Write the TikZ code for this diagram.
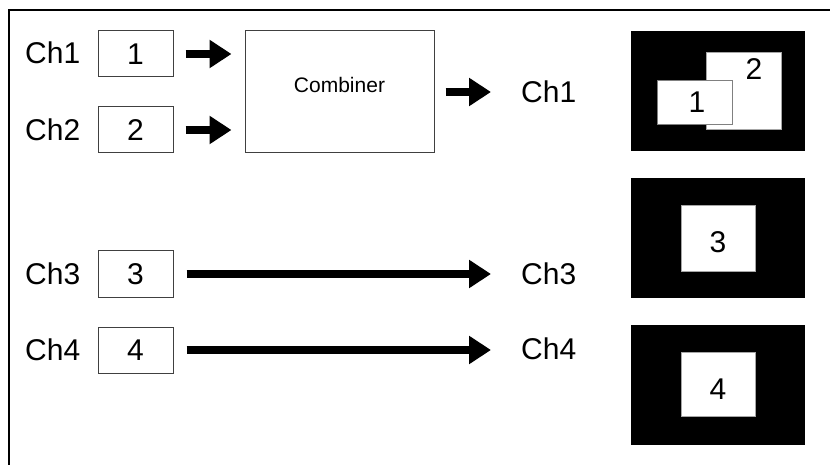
\documentclass[tikz,border=0pt]{standalone}
\usepackage{fontspec}
\setmainfont{Liberation Sans}
\usetikzlibrary{arrows.meta}
\begin{document}
\begin{tikzpicture}[x=1pt,y=-1pt,
  big/.style={font=\fontsize{30}{35}\selectfont},
  small/.style={font=\fontsize{21}{25}\selectfont},
  chlabel/.style={big,inner sep=0pt,anchor=west},
  chbox/.style={draw=black!75,line width=1pt,minimum width=75pt,minimum height=46pt,inner sep=0pt,big},
  combbox/.style={draw=black!75,line width=1pt,minimum width=189pt,minimum height=122pt,inner sep=0pt},
  panel/.style={fill=black,minimum width=174pt,minimum height=120pt,inner sep=0pt},
  win/.style={fill=white,draw=gray!70,line width=0.8pt,inner sep=0pt},
  digit/.style={big,inner sep=0pt},
  fat/.style={line width=8pt,-{Triangle[length=22pt,width=27pt]}}
]
\useasboundingbox (0,0) rectangle (830,465);
% frame
\draw[line width=2.5pt] (9,475) -- (9,10) -- (840,10);

% left labels and boxes
\node[chlabel] (l1) at (25,53) {Ch1};
\node[chlabel] (l2) at (25,130) {Ch2};
\node[chlabel] (l3) at (25,274) {Ch3};
\node[chlabel] (l4) at (25,350) {Ch4};
\node[chbox] (b1) at (135.5,54) {1};
\node[chbox] (b2) at (135.5,130) {2};
\node[chbox] (b3) at (135.5,274) {3};
\node[chbox] (b4) at (135.5,350) {4};

% combiner
\node[combbox] (comb) at (339.5,92) {};
\node[small,inner sep=0pt] (combtxt) at ([yshift=7.5pt]comb.center) {Combiner};

% right labels
\node[chlabel] (o1) at (521,92) {Ch1};
\node[chlabel] (o3) at (521,274) {Ch3};
\node[chlabel] (o4) at (521,349) {Ch4};

% arrows
\draw[fat,shorten <=12pt,shorten >=13pt] (b1.east) -- (b1.east -| comb.west);
\draw[fat,shorten <=12pt,shorten >=13pt] (b2.east) -- (b2.east -| comb.west);
\draw[fat,shorten <=11pt,shorten >=30pt] (comb.east) -- (o1.west);
\draw[fat,shorten <=13pt,shorten >=30pt] (b3.east) -- (b3.east -| o3.west);
\draw[fat,shorten <=13pt,shorten >=30pt] (b4.east) -- (b4.east -| o4.west);

% panels
\node[panel] (p1) at (718,91.5) {};
\node[win,minimum width=75pt,minimum height=77pt] (w2) at (743.5,90.5) {};
\node[win,draw=gray,minimum width=75pt,minimum height=44pt] (w1) at (694.5,102) {};
\node[digit] (d2) at (754,69) {2};
\node[digit] (d1) at (697,102) {1};

\node[panel] (p2) at (718,238) {};
\node[win,minimum width=74pt,minimum height=66pt] (w3) at (718,238) {};
\node[digit] (d3) at (718,242) {3};

\node[panel] (p3) at (718,385) {};
\node[win,minimum width=74pt,minimum height=64pt] (w4) at (718,384) {};
\node[digit] (d4) at (718,389) {4};
\end{tikzpicture}
\end{document}
